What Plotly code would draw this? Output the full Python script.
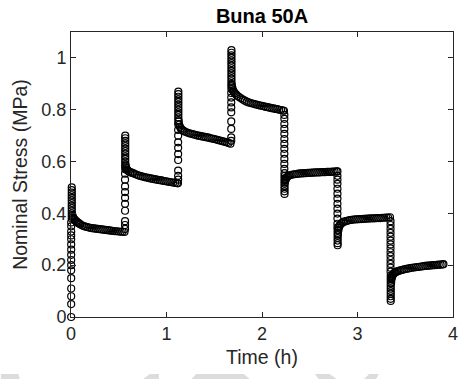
import plotly.graph_objects as go

# ---- data (time in h, stress in MPa) ----
ramp_times = [0.002, 0.566, 1.122, 1.678, 2.234, 2.790, 3.346]
ramp_stress = [
    [0.0, 0.05, 0.08, 0.11, 0.15, 0.18, 0.20, 0.22, 0.24, 0.26, 0.28, 0.30, 0.315, 0.33, 0.35, 0.365],
    [0.34, 0.355, 0.37, 0.41, 0.437, 0.46, 0.482, 0.504, 0.53, 0.553],
    [0.53, 0.545, 0.565, 0.606, 0.629, 0.653, 0.674, 0.70, 0.722, 0.745],
    [0.68, 0.693, 0.726, 0.755, 0.79, 0.809, 0.828, 0.847, 0.865],
    [0.78, 0.765, 0.745, 0.726, 0.707, 0.687, 0.668, 0.649, 0.63, 0.61, 0.591, 0.572],
    [0.545, 0.53, 0.514, 0.495, 0.476, 0.457, 0.437, 0.418, 0.399, 0.38, 0.36, 0.345],
    [0.37, 0.355, 0.34, 0.325, 0.31, 0.295, 0.28, 0.265, 0.25, 0.235, 0.22, 0.205, 0.19, 0.175],
]

column_times = [0.008, 0.568, 1.124, 1.680, 2.236, 2.792, 3.348]
column_stress = [
    [0.38, 0.39, 0.40, 0.41, 0.42, 0.43, 0.44, 0.45, 0.46, 0.47, 0.48, 0.49, 0.50],
    [0.57, 0.58, 0.59, 0.60, 0.61, 0.62, 0.63, 0.64, 0.65, 0.66, 0.67, 0.68, 0.69, 0.70],
    [0.76, 0.77, 0.78, 0.79, 0.80, 0.81, 0.82, 0.83, 0.84, 0.85, 0.86, 0.87],
    [0.88, 0.89, 0.90, 0.91, 0.92, 0.93, 0.94, 0.95, 0.96, 0.97, 0.98, 0.99, 1.00, 1.01, 1.02, 1.03],
    [0.555, 0.545, 0.535, 0.525, 0.515, 0.505, 0.495, 0.485, 0.475],
    [0.335, 0.325, 0.315, 0.305, 0.295, 0.285, 0.277],
    [0.16, 0.15, 0.14, 0.13, 0.12, 0.11, 0.10, 0.09, 0.08, 0.07, 0.062],
]

curve1_t = [0.015, 0.02, 0.025, 0.03, 0.04, 0.05, 0.06, 0.07, 0.08, 0.09, 0.10, 0.12, 0.14, 0.16, 0.18,
            0.20, 0.22, 0.24, 0.26, 0.28, 0.30, 0.32, 0.34, 0.36, 0.38, 0.40, 0.42, 0.44, 0.46, 0.48,
            0.50, 0.52, 0.54, 0.56]
curve1_s = [0.392, 0.386, 0.382, 0.379, 0.375, 0.371, 0.368, 0.365, 0.362, 0.36, 0.357, 0.353, 0.35,
            0.348, 0.346, 0.344, 0.343, 0.342, 0.341, 0.340, 0.339, 0.338, 0.337, 0.336, 0.335, 0.334,
            0.333, 0.332, 0.331, 0.331, 0.330, 0.329, 0.329, 0.328]

curve2_t = [0.572, 0.578, 0.585, 0.595, 0.605, 0.62, 0.635, 0.65, 0.67, 0.69, 0.71, 0.73, 0.75, 0.77,
            0.79, 0.81, 0.83, 0.85, 0.87, 0.89, 0.91, 0.93, 0.95, 0.97, 0.99, 1.01, 1.03, 1.05, 1.07,
            1.09, 1.11, 1.12]
curve2_s = [0.585, 0.575, 0.569, 0.565, 0.562, 0.559, 0.557, 0.555, 0.552, 0.549, 0.546, 0.544, 0.542,
            0.540, 0.538, 0.537, 0.535, 0.534, 0.532, 0.531, 0.529, 0.528, 0.527, 0.525, 0.524, 0.523,
            0.521, 0.520, 0.519, 0.518, 0.517, 0.516]

curve3_t = [1.128, 1.133, 1.14, 1.15, 1.16, 1.175, 1.19, 1.21, 1.23, 1.25, 1.27, 1.29, 1.31, 1.33, 1.35,
            1.37, 1.39, 1.41, 1.43, 1.45, 1.47, 1.49, 1.51, 1.53, 1.55, 1.57, 1.59, 1.61, 1.63, 1.65,
            1.67]
curve3_s = [0.755, 0.742, 0.734, 0.728, 0.723, 0.719, 0.716, 0.713, 0.710, 0.708, 0.706, 0.704, 0.702,
            0.700, 0.699, 0.697, 0.696, 0.694, 0.693, 0.691, 0.689, 0.688, 0.686, 0.684, 0.682, 0.680,
            0.678, 0.676, 0.674, 0.672, 0.669]

curve4_t = [1.684, 1.69, 1.697, 1.705, 1.715, 1.73, 1.745, 1.76, 1.78, 1.80, 1.82, 1.84, 1.86, 1.88,
            1.90, 1.92, 1.94, 1.96, 1.98, 2.00, 2.02, 2.04, 2.06, 2.08, 2.10, 2.12, 2.14, 2.16, 2.18,
            2.20, 2.22, 2.23]
curve4_s = [0.895, 0.883, 0.875, 0.869, 0.864, 0.858, 0.853, 0.849, 0.844, 0.839, 0.835, 0.831, 0.828,
            0.826, 0.824, 0.822, 0.820, 0.818, 0.816, 0.815, 0.813, 0.811, 0.810, 0.808, 0.806, 0.805,
            0.803, 0.802, 0.800, 0.799, 0.797, 0.796]

curve5_t = [2.24, 2.245, 2.25, 2.26, 2.27, 2.285, 2.30, 2.32, 2.34, 2.36, 2.38, 2.40, 2.42, 2.44, 2.46,
            2.48, 2.50, 2.52, 2.54, 2.56, 2.58, 2.60, 2.62, 2.64, 2.66, 2.68, 2.70, 2.72, 2.74, 2.76,
            2.78, 2.79]
curve5_s = [0.52, 0.528, 0.533, 0.539, 0.543, 0.546, 0.548, 0.55, 0.551, 0.552, 0.553, 0.554, 0.554,
            0.555, 0.555, 0.556, 0.556, 0.557, 0.557, 0.558, 0.558, 0.558, 0.559, 0.559, 0.559, 0.56,
            0.56, 0.56, 0.561, 0.561, 0.562, 0.562]

curve6_t = [2.795, 2.80, 2.805, 2.812, 2.82, 2.83, 2.845, 2.86, 2.88, 2.90, 2.92, 2.94, 2.96, 2.98, 3.00,
            3.02, 3.04, 3.06, 3.08, 3.10, 3.12, 3.14, 3.16, 3.18, 3.20, 3.22, 3.24, 3.26, 3.28, 3.30,
            3.32, 3.34]
curve6_s = [0.32, 0.335, 0.345, 0.352, 0.357, 0.361, 0.365, 0.368, 0.37, 0.372, 0.374, 0.375, 0.376,
            0.377, 0.377, 0.378, 0.378, 0.379, 0.379, 0.38, 0.38, 0.381, 0.381, 0.381, 0.382, 0.382,
            0.382, 0.383, 0.383, 0.384, 0.384, 0.385]

curve7_t = [3.352, 3.356, 3.36, 3.365, 3.372, 3.38, 3.39, 3.40, 3.415, 3.43, 3.45, 3.47, 3.49, 3.51,
            3.53, 3.55, 3.57, 3.59, 3.61, 3.63, 3.65, 3.67, 3.69, 3.71, 3.73, 3.75, 3.77, 3.79, 3.81,
            3.83, 3.85, 3.87, 3.89, 3.90]
curve7_s = [0.132, 0.145, 0.153, 0.159, 0.164, 0.168, 0.171, 0.173, 0.176, 0.178, 0.180, 0.182, 0.184,
            0.186, 0.187, 0.189, 0.190, 0.191, 0.192, 0.193, 0.194, 0.195, 0.196, 0.197, 0.198, 0.198,
            0.199, 0.200, 0.200, 0.201, 0.202, 0.202, 0.203, 0.204]

x_ticks = [0, 1, 2, 3, 4]
y_ticks = [0, 0.2, 0.4, 0.6, 0.8, 1.0]
y_tick_labels = ["0", "0.2", "0.4", "0.6", "0.8", "1"]

curves_t = [curve1_t, curve2_t, curve3_t, curve4_t, curve5_t, curve6_t, curve7_t]
curves_s = [curve1_s, curve2_s, curve3_s, curve4_s, curve5_s, curve6_s, curve7_s]

xs, ys = [], []
for i in range(7):
    xs += [ramp_times[i]] * len(ramp_stress[i]) + [column_times[i]] * len(column_stress[i]) + curves_t[i]
    ys += ramp_stress[i] + column_stress[i] + curves_s[i]

fig = go.Figure()
fig.add_trace(go.Scatter(
    x=xs, y=ys, mode="markers", cliponaxis=False,
    marker=dict(symbol="circle-open", size=7, color="black", line=dict(width=1.2, color="black")),
    showlegend=False,
))

# faint watermark shapes at the bottom edge (pixel -> paper conversion)
def px2paper(px, py):
    return (px - 71) / 387.0, (317 - py) / 285.0

wm = [
    [(0, 374), (18, 374), (19, 379), (0, 379)],
    [(151, 374), (160, 374), (160, 379), (144, 379)],
    [(198, 374), (246, 374), (252, 379), (193, 379)],
    [(318, 374), (333, 374), (340, 379), (322, 379)],
    [(373, 374), (383, 374), (380, 379), (368, 379)],
]
shapes = []
for poly in wm:
    pts = [px2paper(a, b) for a, b in poly]
    path = "M " + " L ".join(f"{p[0]:.4f},{p[1]:.4f}" for p in pts) + " Z"
    shapes.append(dict(type="path", xref="paper", yref="paper", path=path,
                       fillcolor="#dcdcdc", line=dict(width=0), layer="below"))

axis_col = "#262626"
fig.update_layout(
    width=464, height=379,
    margin=dict(l=71, r=6, t=32, b=62),
    paper_bgcolor="white", plot_bgcolor="white",
    font=dict(family="Liberation Sans, Arial, sans-serif", size=18, color=axis_col),
    title=dict(text="<b>Buna 50A</b>", x=0.5, xref="paper", y=1 - 15.5 / 379, yref="container",
               yanchor="middle", xanchor="center", font=dict(size=20, color="black")),
    shapes=shapes,
)
fig.update_xaxes(
    range=[0, 4], tickvals=x_ticks, ticktext=[str(v) for v in x_ticks],
    ticks="inside", ticklen=5, tickcolor=axis_col, showline=True, linecolor=axis_col, linewidth=1,
    mirror="ticks", showgrid=False, zeroline=False,
    title=dict(text="Time (h)", font=dict(size=19.5), standoff=7),
)
fig.update_yaxes(
    range=[0, 1.1], tickvals=y_ticks, ticktext=y_tick_labels,
    ticks="inside", ticklen=5, tickcolor=axis_col, showline=True, linecolor=axis_col, linewidth=1,
    mirror="ticks", showgrid=False, zeroline=False,
    title=dict(text="Nominal Stress (MPa)", font=dict(size=19.5), standoff=8),
)

fig.write_html("out.html")
